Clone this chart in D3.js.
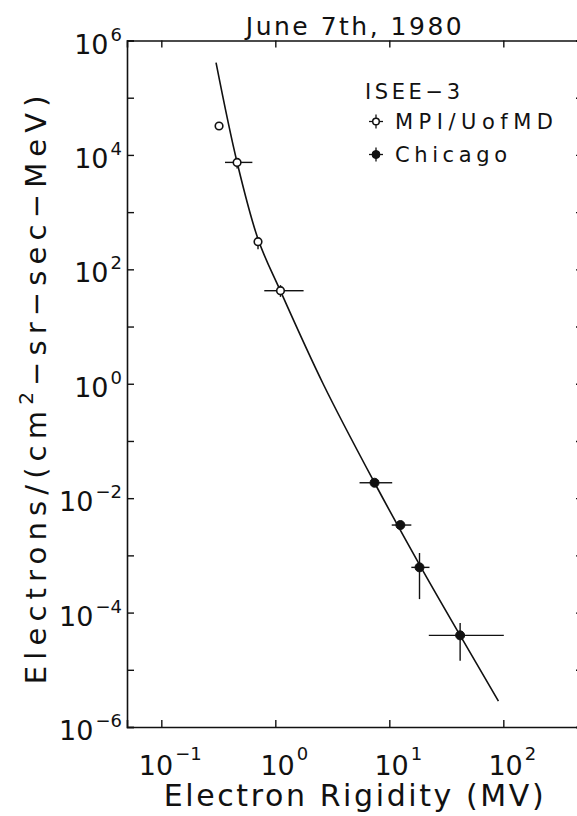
<!DOCTYPE html>
<html>
<head>
<meta charset="utf-8">
<script src="https://cdn.jsdelivr.net/npm/d3@7"></script>
<style>
  body { margin: 0; background: #fff; }
  svg { display: block; font-family: "DejaVu Sans", sans-serif; }
</style>
</head>
<body>
<svg width="577" height="816"></svg>
<script>
// --- data ---
// MPI / UofMD (open symbols)
const mpiRigidity = [0.321, 0.462, 0.705, 1.11];
const mpiFlux     = [3.2e4, 7.4e3, 304, 42.3];
const mpiRigLo    = [null, 0.362, null, 0.80];
const mpiRigHi    = [null, 0.629, null, 1.77];
const mpiFluxLo   = [null, 5.8e3, 225, 33];
const mpiFluxHi   = [null, null, null, 53];

// Chicago (filled symbols)
const chiRigidity = [7.42, 12.5, 18.4, 41.8];
const chiFlux     = [0.0186, 3.39e-3, 6.17e-4, 4.0e-5];
const chiRigLo    = [5.48, 10.5, 15.6, 22.2];
const chiRigHi    = [10.6, 15.6, 22.5, 101];
const chiFluxLo   = [null, null, 1.72e-4, 1.44e-5];
const chiFluxHi   = [null, null, 1.1e-3, 6.6e-5];

// fitted spectrum, points
const fitRigidity = [0.302, 0.462, 0.710, 1.106, 2.63, 7.42, 18.7, 41.8, 90.6];
const fitFlux     = [4.09e5, 7.4e3, 325, 42.3, 0.99, 0.0186, 6.5e-4, 4.0e-5, 2.84e-6];

const xTickExps = [-1, 0, 1, 2];
const yTickExps = [-6, -5, -4, -3, -2, -1, 0, 1, 2, 3, 4, 5, 6];
const yLabelExps = [-6, -4, -2, 0, 2, 4, 6];

const title = 'June 7th, 1980';
const legendTitle = 'ISEE\u22123';
const seriesNames = ['MPI/UofMD', 'Chicago'];

// --- layout ---
const svg = d3.select('svg');
const margin = { top: 40.5, left: 127, right: -6, bottom: 89 };
const width = +svg.attr('width');
const height = +svg.attr('height');

const x = d3.scaleLog().domain([0.05, 500]).range([margin.left, width - margin.right]);
const y = d3.scaleLog().domain([1e-6, 1e6]).range([height - margin.bottom, margin.top]);

const ink = '#111';

// frame + inward ticks
const xTicks = xTickExps.map(e => Math.pow(10, e));
const yTicks = yTickExps.map(e => Math.pow(10, e));

const axes = svg.append('g').attr('class', 'axes');
axes.append('g').attr('transform', `translate(0,${y.range()[0]})`)
  .call(d3.axisBottom(x).tickValues(xTicks).tickSize(-7).tickFormat(''));
axes.append('g').attr('transform', `translate(0,${y.range()[1]})`)
  .call(d3.axisTop(x).tickValues(xTicks).tickSize(-7).tickFormat(''));
axes.append('g').attr('transform', `translate(${x.range()[0]},0)`)
  .call(d3.axisLeft(y).tickValues(yTicks).tickSize(-7).tickFormat(''));
axes.append('g').attr('transform', `translate(${x.range()[1]},0)`)
  .call(d3.axisRight(y).tickValues(yTicks).tickSize(-7).tickFormat(''));
axes.selectAll('path.domain').attr('stroke', ink).attr('stroke-width', 1.6);
axes.selectAll('.tick line').attr('stroke', ink).attr('stroke-width', 1.4);

// tick labels (10 with superscript exponent)
const fmtExp = e => (e < 0 ? '\u2212' + (-e) : '' + e);

const xl = svg.append('g').attr('font-size', 27).attr('fill', ink);
xTickExps.forEach(e => {
  const t = xl.append('text')
    .attr('x', x(Math.pow(10, e)) + 9)
    .attr('y', y.range()[0] + 48)
    .attr('text-anchor', 'middle');
  t.append('tspan').text('10');
  t.append('tspan').attr('font-size', 18).attr('dy', -15).attr('dx', 2).text(fmtExp(e));
});

const yl = svg.append('g').attr('font-size', 27).attr('fill', ink);
yLabelExps.forEach(e => {
  const t = yl.append('text')
    .attr('x', 122)
    .attr('y', y(Math.pow(10, e)) + 13)
    .attr('text-anchor', 'end');
  t.append('tspan').text('10');
  t.append('tspan').attr('font-size', 18).attr('dy', -13).attr('dx', 2).text(fmtExp(e));
});

// spread a text to a target length with letter spacing
function spread(sel, target) {
  const n = sel.text().length;
  const len = sel.node().getComputedTextLength();
  sel.attr('letter-spacing', (target - len) / (n - 1));
}

// title
const tt = svg.append('text')
  .attr('x', (x.range()[0] + x.range()[1]) / 2)
  .attr('y', 35)
  .attr('text-anchor', 'middle')
  .attr('font-size', 25)
  .attr('fill', ink)
  .text(title);
spread(tt, 216);

// axis titles
const xt = svg.append('text')
  .attr('x', (x.range()[0] + x.range()[1]) / 2)
  .attr('y', 806)
  .attr('text-anchor', 'middle')
  .attr('font-size', 30)
  .attr('fill', ink)
  .text('Electron Rigidity (MV)');
spread(xt, 380);

const yt = svg.append('text')
  .attr('transform', `translate(46,${(y.range()[0] + y.range()[1]) / 2 + 3}) rotate(-90)`)
  .attr('text-anchor', 'middle')
  .attr('font-size', 29)
  .attr('fill', ink);
yt.append('tspan').text('Electrons/(cm');
yt.append('tspan').attr('font-size', 20).attr('dy', -13).text('2');
yt.append('tspan').attr('dy', 13).text('\u2212sr\u2212sec\u2212MeV)');
spread(yt, 589);

// fitted curve
const fit = fitRigidity.map((r, i) => [r, fitFlux[i]]);
svg.append('path')
  .datum(fit)
  .attr('fill', 'none')
  .attr('stroke', ink)
  .attr('stroke-width', 1.6)
  .attr('d', d3.line().x(d => x(d[0])).y(d => y(d[1])).curve(d3.curveCatmullRom.alpha(0.5)));

// data with error bars
const mpi = mpiRigidity.map((r, i) => ({
  r, f: mpiFlux[i], rLo: mpiRigLo[i], rHi: mpiRigHi[i], fLo: mpiFluxLo[i], fHi: mpiFluxHi[i]
}));
const chi = chiRigidity.map((r, i) => ({
  r, f: chiFlux[i], rLo: chiRigLo[i], rHi: chiRigHi[i], fLo: chiFluxLo[i], fHi: chiFluxHi[i]
}));

function drawSeries(data, filled) {
  const g = svg.append('g');
  data.forEach(d => {
    const cx = x(d.r), cy = y(d.f);
    if (d.rLo !== null) g.append('line').attr('x1', x(d.rLo)).attr('x2', cx).attr('y1', cy).attr('y2', cy);
    if (d.rHi !== null) g.append('line').attr('x1', cx).attr('x2', x(d.rHi)).attr('y1', cy).attr('y2', cy);
    if (d.fLo !== null) g.append('line').attr('x1', cx).attr('x2', cx).attr('y1', cy).attr('y2', y(d.fLo));
    if (d.fHi !== null) g.append('line').attr('x1', cx).attr('x2', cx).attr('y1', y(d.fHi)).attr('y2', cy);
  });
  g.selectAll('line').attr('stroke', ink).attr('stroke-width', 1.4);
  g.selectAll('circle').data(data).enter().append('circle')
    .attr('cx', d => x(d.r))
    .attr('cy', d => y(d.f))
    .attr('r', filled ? 4.5 : 3.8)
    .attr('fill', filled ? ink : '#fff')
    .attr('stroke', ink)
    .attr('stroke-width', filled ? 1 : 1.6);
}
drawSeries(mpi, false);
drawSeries(chi, true);

// legend
const lg = svg.append('g').attr('fill', ink).attr('font-size', 21);
const lt = lg.append('text').attr('x', 365).attr('y', 99).text(legendTitle);
spread(lt, 95);
seriesNames.forEach((name, i) => {
  const cy = 121.5 + i * 33;
  const sx = 376;
  const s = lg.append('g').attr('stroke', ink).attr('stroke-width', 1.3);
  s.append('line').attr('x1', sx - 7).attr('x2', sx + 7).attr('y1', cy).attr('y2', cy);
  s.append('line').attr('x1', sx).attr('x2', sx).attr('y1', cy - 7).attr('y2', cy + 7);
  s.append('circle').attr('cx', sx).attr('cy', cy).attr('r', i === 0 ? 3.3 : 4)
    .attr('fill', i === 0 ? '#fff' : ink).attr('stroke-width', i === 0 ? 1.5 : 1);
  const t = lg.append('text').attr('x', 395).attr('y', cy + 7.5).text(name);
  spread(t, i === 0 ? 158 : 112);
});
</script>
</body>
</html>
